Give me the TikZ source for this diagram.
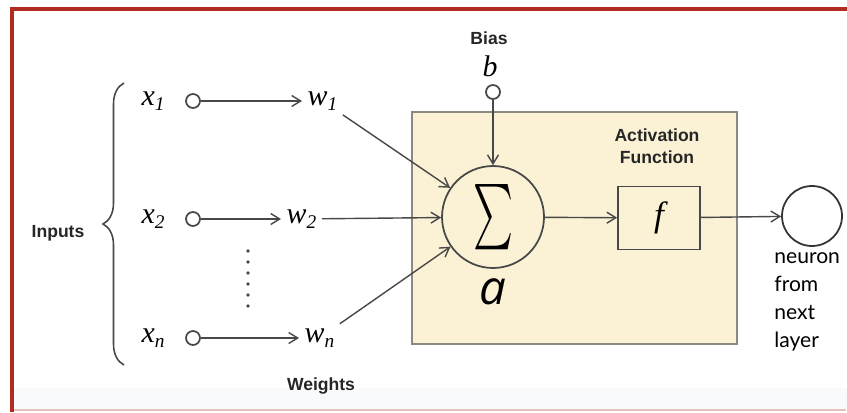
\documentclass[tikz,border=0pt]{standalone}
\usepackage{fontspec}
\setmainfont{Liberation Serif}
\setsansfont{Liberation Sans}
\newfontfamily\latofont{Lato}
\newfontfamily\opensansfont{Open Sans}
\usepackage{graphicx}
\usepackage{tikz}
\usetikzlibrary{positioning,calc,arrows.meta,decorations.pathreplacing}
\usepackage{xcolor}
\definecolor{framered}{RGB}{176,44,32}
\definecolor{boxfill}{RGB}{251,242,214}
\definecolor{boxline}{RGB}{140,138,128}
\definecolor{linegray}{RGB}{72,72,72}
\definecolor{bandgray}{RGB}{248,250,252}
\newcommand{\lowidx}[1]{\raisebox{-0.35ex}{\fontsize{11}{11}\selectfont\itshape #1}}

\begin{document}
\begin{tikzpicture}[x=0.02cm,y=-0.02cm,
    lbl/.style={font=\sffamily\bfseries\fontsize{10}{12.5}\selectfont,text=black!85},
    var/.style={font=\fontsize{17}{18}\selectfont\itshape,inner sep=3pt},
    knob/.style={circle,draw=linegray,line width=1pt,fill=white,minimum size=0.28cm,inner sep=0pt},
    link/.style={draw=linegray,line width=0.8pt,-{Straight Barb[length=1.8mm,width=2.2mm]}}]

\useasboundingbox[fill=white] (0,0) rectangle (847,412);

% frame
\fill[bandgray] (14,388) rectangle (847,409);
\draw[framered,line width=2.3pt] (12,412) -- (12,9) -- (840,9);
\draw[framered,line width=2.3pt] (840,9) -- (847,9);
\draw[framered!30,line width=0.8pt] (14,410) -- (846,410);

% neuron box
\node[draw=boxline,fill=boxfill,line width=1pt,minimum width=6.5cm,minimum height=4.64cm,inner sep=0pt] (act) at (574.5,228) {};
\node[lbl,align=center] (actlbl) at (657,146) {Activation\\Function};

% inputs and weights
\node[lbl] (inputs) at (58,233) {Inputs};
\draw[linegray,line width=0.9pt,decorate,decoration={brace,amplitude=0.42cm}] (124,365) -- (124,83);
\foreach \i/\yy/\wx in {1/101/302, 2/219/281, n/338/299} {
    \node[var] (x\i) at (153,\yy) {x\lowidx{\i}};
    \node[knob] (in\i) at (193,\yy) {};
    \node[var,anchor=west] (w\i) at (\wx,\yy) {w\lowidx{\i}};
    \draw[link] (in\i) -- (w\i);
}
\foreach \k in {0,...,5} { \fill[linegray] (248,251+\k*11) circle[radius=1.1pt]; }
\node[lbl] (weights) at (321,386) {Weights};

% summation
\node[circle,draw=linegray,line width=1pt,minimum size=2.04cm,inner sep=0pt] (sig) at (493,217) {\resizebox{0.8cm}{0.98cm}{$\sum$}};
\node[font=\opensansfont\itshape\fontsize{27}{30}\selectfont] (alab) at (493,292) {a};
\foreach \i in {1,2,n} { \draw[link] (w\i) -- (sig); }

% bias
\node[lbl] (biaslbl) at (489,38) {Bias};
\node[var] (blab) at (490,66) {b};
\node[knob] (bias) at (493,92) {};
\draw[link] (bias) -- (sig);

% activation
\node[draw=linegray,fill=boxfill,line width=1pt,minimum width=1.64cm,minimum height=1.26cm,font=\fontsize{20}{22}\selectfont\itshape] (fbox) at (659,218) {f};
\draw[link] (sig) -- (fbox);

% next layer
\node[circle,draw=black!80,line width=1pt,minimum size=1.2cm,inner sep=0pt] (out) at (812,216) {};
\draw[link] (fbox) -- (out);
\node[anchor=north west,align=left,inner sep=0pt,font=\latofont\fontsize{12}{16}\selectfont] (outlbl) at (774,252) {neuron\\from\\next\\layer};

\end{tikzpicture}
\end{document}
